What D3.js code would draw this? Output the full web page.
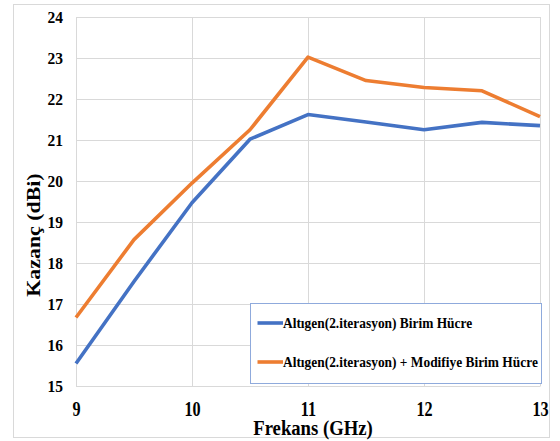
<!DOCTYPE html>
<html>
<head>
<meta charset="utf-8">
<script src="https://cdn.jsdelivr.net/npm/d3@7"></script>
<style>
  html, body { margin: 0; padding: 0; background: #fff; }
  svg { display: block; }
</style>
</head>
<body>
<svg id="chart" width="560" height="441"></svg>
<script>
// Frequency sweep (GHz) and gain (dBi) for the two unit-cell designs
const frequencies = [9, 9.5, 10, 10.5, 11, 11.5, 12, 12.5, 13];
const gainHexagon = [15.55, 17.55, 19.47, 21.02, 21.62, 21.44, 21.25, 21.43, 21.35];
const gainHexagonModified = [16.67, 18.57, 19.95, 21.25, 23.02, 22.45, 22.28, 22.20, 21.57];

const seriesNames = [
  "Altıgen(2.iterasyon) Birim Hücre",
  "Altıgen(2.iterasyon) + Modifiye Birim Hücre"
];
const seriesColors = ["#4472C4", "#ED7D31"];

const xTicks = [9, 10, 11, 12, 13];
const yTicks = [15, 16, 17, 18, 19, 20, 21, 22, 23, 24];

const FONT = "'Liberation Serif', 'Times New Roman', serif";

const svg = d3.select("#chart");

// outer frame
svg.append("rect")
  .attr("x", 13.5).attr("y", 4.5)
  .attr("width", 536).attr("height", 433)
  .attr("fill", "#fff").attr("stroke", "#d9d9d9").attr("stroke-width", 1);

const plot = { left: 76, right: 540, top: 17, bottom: 386 };

const x = d3.scaleLinear().domain([9, 13]).range([plot.left, plot.right]);
const y = d3.scaleLinear().domain([15, 24]).range([plot.bottom, plot.top]);

// gridlines
const grid = svg.append("g");
grid.selectAll("line.h").data(yTicks).join("line")
  .attr("x1", plot.left).attr("x2", plot.right)
  .attr("y1", d => Math.round(y(d)) + 0.5).attr("y2", d => Math.round(y(d)) + 0.5)
  .attr("stroke", "#d9d9d9").attr("stroke-width", 1);
grid.selectAll("line.v").data(xTicks).join("line")
  .attr("y1", plot.top).attr("y2", plot.bottom)
  .attr("x1", d => Math.round(x(d)) + 0.5).attr("x2", d => Math.round(x(d)) + 0.5)
  .attr("stroke", "#d9d9d9").attr("stroke-width", 1);

// tick labels use a tall, narrow serif face: scale each label vertically about its baseline
function styleTicks(size, stretch, dx, baseline) {
  return g => {
    g.select(".domain").attr("stroke", "#d9d9d9");
    g.selectAll("text")
      .attr("x", null).attr("y", null).attr("dy", null)
      .attr("transform", `translate(${dx},${baseline}) scale(1,${stretch})`)
      .style("font-family", FONT)
      .style("font-weight", "bold")
      .style("font-size", size + "px")
      .attr("fill", "#000");
  };
}
const yAxis = d3.axisLeft(y).tickValues(yTicks).tickSize(0).tickFormat(d3.format("d"));
svg.append("g").attr("transform", `translate(${plot.left},0)`)
  .call(yAxis).call(styleTicks(15.5, 1.12, -13, 5.9));

const xAxis = d3.axisBottom(x).tickValues(xTicks).tickSize(0).tickFormat(d3.format("d"));
svg.append("g").attr("transform", `translate(0,${plot.bottom})`)
  .call(xAxis).call(styleTicks(16.2, 1.25, 0, 29.8));

// axis titles
svg.append("text")
  .attr("transform", "translate(313,434.8) scale(1,1.13)")
  .attr("text-anchor", "middle")
  .style("font-family", FONT).style("font-weight", "bold").style("font-size", "18.7px")
  .text("Frekans (GHz)");

svg.append("text")
  .attr("transform", "translate(39.5,235) rotate(-90) scale(1.17,1)")
  .attr("text-anchor", "middle")
  .style("font-family", FONT).style("font-weight", "bold").style("font-size", "18.7px")
  .text("Kazanç (dBi)");

// series lines
const series = [gainHexagon, gainHexagonModified];
const line = d3.line().x((d, i) => x(frequencies[i])).y(d => y(d));
svg.append("g").selectAll("path").data(series).join("path")
  .attr("d", d => line(d))
  .attr("fill", "none")
  .attr("stroke", (d, i) => seriesColors[i])
  .attr("stroke-width", 3.6)
  .attr("stroke-linejoin", "round");

// legend
const legend = svg.append("g");
legend.append("rect")
  .attr("x", 250.5).attr("y", 303.5)
  .attr("width", 291).attr("height", 80)
  .attr("fill", "#fff").attr("stroke", "#8faadc").attr("stroke-width", 1);
const legendRows = [323, 362];
seriesNames.forEach((name, i) => {
  legend.append("line")
    .attr("x1", 257.5).attr("x2", 283)
    .attr("y1", legendRows[i]).attr("y2", legendRows[i])
    .attr("stroke", seriesColors[i]).attr("stroke-width", 3.6);
  legend.append("text")
    .attr("transform", `translate(283,${legendRows[i] + 5}) scale(1,1.15)`)
    .style("font-family", FONT).style("font-weight", "bold").style("font-size", "13.4px")
    .text(name);
});
</script>
</body>
</html>
